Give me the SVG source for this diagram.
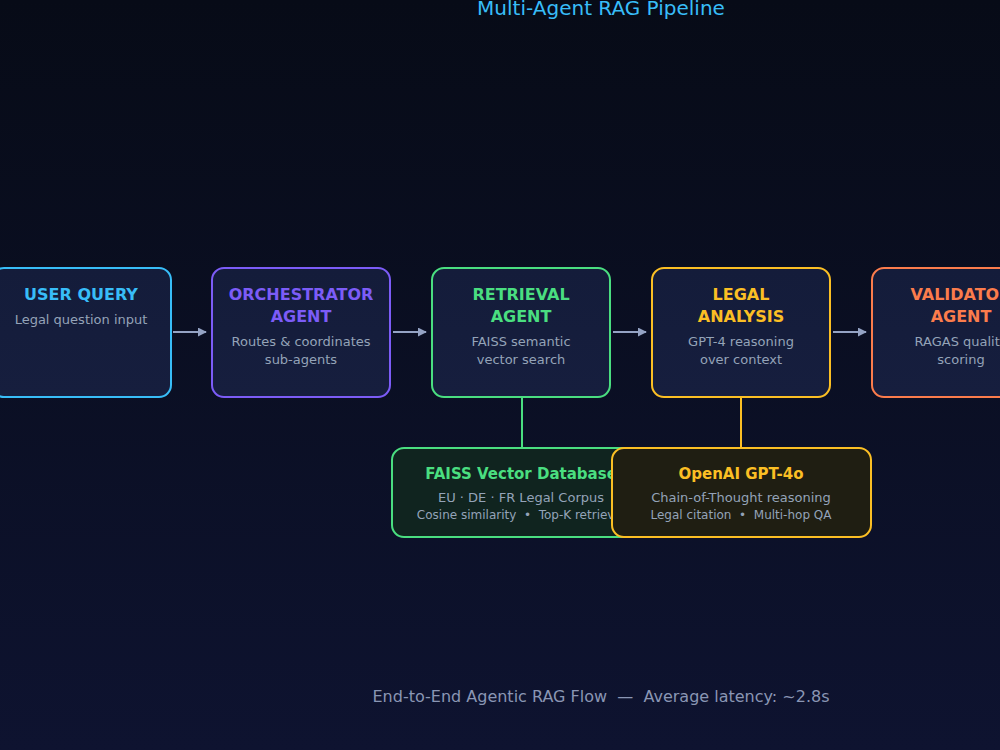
<svg xmlns="http://www.w3.org/2000/svg" width="1000" height="750" viewBox="0 0 1000 750">
<defs>
<linearGradient id="bg" x1="0" y1="0" x2="0" y2="1">
<stop offset="0" stop-color="#070b17"/>
<stop offset="1" stop-color="#0e1330"/>
</linearGradient>
<linearGradient id="boxfill" x1="0" y1="0" x2="0" y2="1">
<stop offset="0" stop-color="#141c3a"/>
<stop offset="1" stop-color="#161e3e"/>
</linearGradient>
<marker id="arr" viewBox="0 0 10 10" refX="9" refY="5" markerWidth="9" markerHeight="9" markerUnits="userSpaceOnUse" orient="auto">
<path d="M0,0 L10,5 L0,10 Z" fill="#94a3c4"/>
</marker>
</defs>
<style>
text{font-family:"DejaVu Sans","Liberation Sans",sans-serif;text-anchor:middle}
.box{fill:url(#boxfill);stroke-width:2}
.t{font-size:16px;font-weight:bold}
.s{font-size:13px;fill:#94a3b8}
.bt{font-size:15px;font-weight:bold}
.bs{font-size:13px;fill:#94a3b8}
.bs2{font-size:12px;fill:#94a3b8}
.flow{stroke:#94a3c4;stroke-width:2;fill:none}
</style>
<rect width="1000" height="750" fill="url(#bg)"/>
<text x="601" y="15" font-size="20" fill="#38bdf8">Multi-Agent RAG Pipeline</text>

<g id="connectors">
<line class="flow" x1="173" y1="332" x2="206" y2="332" marker-end="url(#arr)"/>
<line class="flow" x1="393" y1="332" x2="426" y2="332" marker-end="url(#arr)"/>
<line class="flow" x1="613" y1="332" x2="646" y2="332" marker-end="url(#arr)"/>
<line class="flow" x1="833" y1="332" x2="866" y2="332" marker-end="url(#arr)"/>
<line x1="522" y1="397" x2="522" y2="448" stroke="#4ade80" stroke-width="2"/>
<line x1="741" y1="397" x2="741" y2="448" stroke="#fbbf24" stroke-width="2"/>
</g>

<g id="user-query">
<rect class="box" x="-8" y="268" width="179" height="129" rx="12" stroke="#38bdf8"/>
<text class="t" x="81" y="300" fill="#38bdf8">USER QUERY</text>
<text class="s" x="81" y="324">Legal question input</text>
</g>
<g id="orchestrator">
<rect class="box" x="212" y="268" width="178" height="129" rx="12" stroke="#7c5cf7"/>
<text class="t" x="301" y="300" fill="#7c5cf7">ORCHESTRATOR</text>
<text class="t" x="301" y="322" fill="#7c5cf7">AGENT</text>
<text class="s" x="301" y="346">Routes &amp; coordinates</text>
<text class="s" x="301" y="364">sub-agents</text>
</g>
<g id="retrieval">
<rect class="box" x="432" y="268" width="178" height="129" rx="12" stroke="#4ade80"/>
<text class="t" x="521" y="300" fill="#4ade80">RETRIEVAL</text>
<text class="t" x="521" y="322" fill="#4ade80">AGENT</text>
<text class="s" x="521" y="346">FAISS semantic</text>
<text class="s" x="521" y="364">vector search</text>
</g>
<g id="legal-analysis">
<rect class="box" x="652" y="268" width="178" height="129" rx="12" stroke="#fbbf24"/>
<text class="t" x="741" y="300" fill="#fbbf24">LEGAL</text>
<text class="t" x="741" y="322" fill="#fbbf24">ANALYSIS</text>
<text class="s" x="741" y="346">GPT-4 reasoning</text>
<text class="s" x="741" y="364">over context</text>
</g>
<g id="validator">
<rect class="box" x="872" y="268" width="178" height="129" rx="12" stroke="#fb7c4c"/>
<text class="t" x="961" y="300" fill="#fb7c4c">VALIDATOR</text>
<text class="t" x="961" y="322" fill="#fb7c4c">AGENT</text>
<text class="s" x="961" y="346">RAGAS quality</text>
<text class="s" x="961" y="364">scoring</text>
</g>

<g id="faiss-db">
<rect x="392" y="448" width="259" height="89" rx="12" fill="#10241f" stroke="#4ade80" stroke-width="2"/>
<text class="bt" x="521" y="479" fill="#4ade80">FAISS Vector Database</text>
<text class="bs" x="521" y="502">EU · DE · FR Legal Corpus</text>
<text class="bs2" x="521" y="519" xml:space="preserve">Cosine similarity  •  Top-K retrieval</text>
</g>
<g id="openai-gpt4o">
<rect x="612" y="448" width="259" height="89" rx="12" fill="#1f1e12" stroke="#fbbf24" stroke-width="2"/>
<text class="bt" x="741" y="479" fill="#fbbf24">OpenAI GPT-4o</text>
<text class="bs" x="741" y="502">Chain-of-Thought reasoning</text>
<text class="bs2" x="741" y="519" xml:space="preserve">Legal citation  •  Multi-hop QA</text>
</g>

<text x="601" y="702" font-size="16" fill="#8a96b4" xml:space="preserve">End-to-End Agentic RAG Flow  —  Average latency: ~2.8s</text>
</svg>
